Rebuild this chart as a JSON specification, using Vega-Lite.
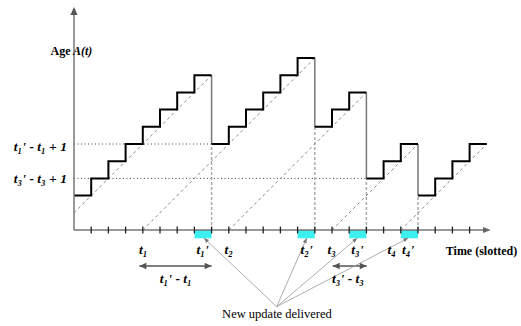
{
  "$schema": "https://vega.github.io/schema/vega-lite/v6.json",
  "width": 521,
  "height": 326,
  "autosize": "none",
  "padding": 0,
  "background": "white",
  "config": {"view": {"stroke": null}},
  "datasets": {
    "slots": [{"x": 7, "x2": 8}, {"x": 13, "x2": 14}, {"x": 16, "x2": 17}, {"x": 19, "x2": 20}],
    "hdots": [{"x": 0, "x2": 8, "y": 5}, {"x": 0, "x2": 17, "y": 3}],
    "vdash": [{"x": 8, "y": 0, "y2": 5}, {"x": 14, "y": 0, "y2": 6}, {"x": 17, "y": 0, "y2": 3}, {"x": 20, "y": 0, "y2": 2}],
    "diag": [
      {"x": 0, "y": 1, "x2": 8, "y2": 9},
      {"x": 4, "y": 0, "x2": 14, "y2": 10},
      {"x": 9, "y": 0, "x2": 17, "y2": 8},
      {"x": 15, "y": 0, "x2": 20, "y2": 5},
      {"x": 19, "y": 0, "x2": 24, "y2": 5}
    ],
    "drops": [{"x": 8, "y": 9, "y2": 5}, {"x": 14, "y": 10, "y2": 6}, {"x": 17, "y": 8, "y2": 3}, {"x": 20, "y": 5, "y2": 2}],
    "stairs": [
      {"x": 0, "y": 2, "run": "a"}, {"x": 1, "y": 3, "run": "a"}, {"x": 2, "y": 4, "run": "a"}, {"x": 3, "y": 5, "run": "a"},
      {"x": 4, "y": 6, "run": "a"}, {"x": 5, "y": 7, "run": "a"}, {"x": 6, "y": 8, "run": "a"}, {"x": 7, "y": 9, "run": "a"}, {"x": 8, "y": 9, "run": "a"},
      {"x": 8, "y": 5, "run": "b"}, {"x": 9, "y": 6, "run": "b"}, {"x": 10, "y": 7, "run": "b"}, {"x": 11, "y": 8, "run": "b"},
      {"x": 12, "y": 9, "run": "b"}, {"x": 13, "y": 10, "run": "b"}, {"x": 14, "y": 10, "run": "b"},
      {"x": 14, "y": 6, "run": "c"}, {"x": 15, "y": 7, "run": "c"}, {"x": 16, "y": 8, "run": "c"}, {"x": 17, "y": 8, "run": "c"},
      {"x": 17, "y": 3, "run": "d"}, {"x": 18, "y": 4, "run": "d"}, {"x": 19, "y": 5, "run": "d"}, {"x": 20, "y": 5, "run": "d"},
      {"x": 20, "y": 2, "run": "e"}, {"x": 21, "y": 3, "run": "e"}, {"x": 22, "y": 4, "run": "e"}, {"x": 23, "y": 5, "run": "e"}, {"x": 24, "y": 5, "run": "e"}
    ],
    "axes": [{"x": 0, "y": 0, "x2": 23.9, "y2": 0}, {"x": 0, "y": 0, "x2": 0, "y2": 12.6}],
    "ticks": [{"x": 1}, {"x": 2}, {"x": 3}, {"x": 4}, {"x": 5}, {"x": 6}, {"x": 7}, {"x": 8}, {"x": 9}, {"x": 10}, {"x": 11}, {"x": 12},
      {"x": 13}, {"x": 14}, {"x": 15}, {"x": 16}, {"x": 17}, {"x": 18}, {"x": 19}, {"x": 20}, {"x": 21}, {"x": 22}, {"x": 23}],
    "spans": [{"x": 3.8, "x2": 8, "y": -2.093}, {"x": 15.04, "x2": 17.02, "y": -2.093}],
    "pointers": [
      {"x": 11.785, "y": -4.459, "x2": 7.558, "y2": -0.465, "id": 1},
      {"x": 11.785, "y": -4.459, "x2": 13.529, "y2": -0.465, "id": 2},
      {"x": 11.785, "y": -4.459, "x2": 16.471, "y2": -0.465, "id": 3},
      {"x": 11.785, "y": -4.459, "x2": 19.436, "y2": -0.465, "id": 4}
    ],
    "tips": [
      {"x": 7.558, "y": -0.465, "id": 1},
      {"x": 13.529, "y": -0.465, "id": 2},
      {"x": 16.471, "y": -0.465, "id": 3},
      {"x": 19.436, "y": -0.465, "id": 4}
    ],
    "heads": [
      {"x": 0, "y": 12.965, "dir": "up"},
      {"x": 24.23, "y": 0, "dir": "right"},
      {"x": 3.8, "y": -2.093, "dir": "spanleft"},
      {"x": 15.04, "y": -2.093, "dir": "spanleft"},
      {"x": 8, "y": -2.093, "dir": "spanright"},
      {"x": 17.02, "y": -2.093, "dir": "spanright"}
    ],
    "labels": [
      {"x": 4.03, "y": -1.395, "text": "t₁", "g": "t"},
      {"x": 7.48, "y": -1.395, "text": "t₁'", "g": "t"},
      {"x": 8.99, "y": -1.395, "text": "t₂", "g": "t"},
      {"x": 13.53, "y": -1.395, "text": "t₂'", "g": "t"},
      {"x": 14.98, "y": -1.395, "text": "t₃", "g": "t"},
      {"x": 16.47, "y": -1.395, "text": "t₃'", "g": "t"},
      {"x": 18.47, "y": -1.395, "text": "t₄", "g": "t"},
      {"x": 19.42, "y": -1.395, "text": "t₄'", "g": "t"},
      {"x": 5.92, "y": -3.08, "text": "t₁' - t₁", "g": "t"},
      {"x": 15.93, "y": -3.08, "text": "t₃' - t₃", "g": "t"},
      {"x": -0.41, "y": 4.85, "text": "t₁' - t₁ + 1", "g": "ylab"},
      {"x": -0.41, "y": 2.95, "text": "t₃' - t₃ + 1", "g": "ylab"},
      {"x": -0.2, "y": 10.157, "text": "Age", "g": "age"},
      {"x": -0.06, "y": 10.157, "text": "A(t)", "g": "agevar"},
      {"x": 23.69, "y": -1.453, "text": "Time (slotted)", "g": "time"},
      {"x": 11.8, "y": -5.116, "text": "New update delivered", "g": "note"}
    ]
  },
  "layer": [
    {
      "data": {"name": "slots"},
      "mark": {"type": "rect", "color": "#3df0f0"},
      "encoding": {
        "x": {"field": "x", "type": "quantitative", "scale": {"domain": [-4.302, 25.988], "nice": false, "zero": false}, "axis": null},
        "x2": {"field": "x2"},
        "y": {"datum": 0, "type": "quantitative", "scale": {"domain": [-5.581, 13.372], "nice": false, "zero": false}, "axis": null},
        "y2": {"datum": -0.48}
      }
    },
    {
      "data": {"name": "hdots"},
      "mark": {"type": "rule", "color": "#444", "strokeWidth": 1, "strokeDash": [1, 2.5]},
      "encoding": {
        "x": {"field": "x", "type": "quantitative", "scale": {"domain": [-4.302, 25.988], "nice": false, "zero": false}, "axis": null},
        "x2": {"field": "x2"},
        "y": {"field": "y", "type": "quantitative", "scale": {"domain": [-5.581, 13.372], "nice": false, "zero": false}, "axis": null}
      }
    },
    {
      "data": {"name": "vdash"},
      "mark": {"type": "rule", "color": "#aaa", "strokeWidth": 1.5, "strokeDash": [3, 2]},
      "encoding": {
        "x": {"field": "x", "type": "quantitative", "scale": {"domain": [-4.302, 25.988], "nice": false, "zero": false}, "axis": null},
        "y": {"field": "y", "type": "quantitative", "scale": {"domain": [-5.581, 13.372], "nice": false, "zero": false}, "axis": null},
        "y2": {"field": "y2"}
      }
    },
    {
      "data": {"name": "diag"},
      "mark": {"type": "rule", "color": "#888", "strokeWidth": 1, "strokeDash": [3, 3]},
      "encoding": {
        "x": {"field": "x", "type": "quantitative", "scale": {"domain": [-4.302, 25.988], "nice": false, "zero": false}, "axis": null},
        "x2": {"field": "x2"},
        "y": {"field": "y", "type": "quantitative", "scale": {"domain": [-5.581, 13.372], "nice": false, "zero": false}, "axis": null},
        "y2": {"field": "y2"}
      }
    },
    {
      "data": {"name": "drops"},
      "mark": {"type": "rule", "color": "#777", "strokeWidth": 1.5},
      "encoding": {
        "x": {"field": "x", "type": "quantitative", "scale": {"domain": [-4.302, 25.988], "nice": false, "zero": false}, "axis": null},
        "y": {"field": "y", "type": "quantitative", "scale": {"domain": [-5.581, 13.372], "nice": false, "zero": false}, "axis": null},
        "y2": {"field": "y2"}
      }
    },
    {
      "data": {"name": "stairs"},
      "mark": {"type": "line", "interpolate": "step-after", "color": "black", "strokeWidth": 2},
      "encoding": {
        "x": {"field": "x", "type": "quantitative", "scale": {"domain": [-4.302, 25.988], "nice": false, "zero": false}, "axis": null},
        "y": {"field": "y", "type": "quantitative", "scale": {"domain": [-5.581, 13.372], "nice": false, "zero": false}, "axis": null},
        "detail": {"field": "run"}
      }
    },
    {
      "data": {"name": "axes"},
      "mark": {"type": "rule", "color": "#777", "strokeWidth": 1.5},
      "encoding": {
        "x": {"field": "x", "type": "quantitative", "scale": {"domain": [-4.302, 25.988], "nice": false, "zero": false}, "axis": null},
        "x2": {"field": "x2"},
        "y": {"field": "y", "type": "quantitative", "scale": {"domain": [-5.581, 13.372], "nice": false, "zero": false}, "axis": null},
        "y2": {"field": "y2"}
      }
    },
    {
      "data": {"name": "ticks"},
      "mark": {"type": "rule", "color": "#222", "strokeWidth": 1.3},
      "encoding": {
        "x": {"field": "x", "type": "quantitative", "scale": {"domain": [-4.302, 25.988], "nice": false, "zero": false}, "axis": null},
        "y": {"datum": -0.2, "type": "quantitative", "scale": {"domain": [-5.581, 13.372], "nice": false, "zero": false}, "axis": null},
        "y2": {"datum": 0.2}
      }
    },
    {
      "data": {"name": "spans"},
      "mark": {"type": "rule", "color": "#555", "strokeWidth": 1.5},
      "encoding": {
        "x": {"field": "x", "type": "quantitative", "scale": {"domain": [-4.302, 25.988], "nice": false, "zero": false}, "axis": null},
        "x2": {"field": "x2"},
        "y": {"field": "y", "type": "quantitative", "scale": {"domain": [-5.581, 13.372], "nice": false, "zero": false}, "axis": null}
      }
    },
    {
      "data": {"name": "pointers"},
      "mark": {"type": "rule", "color": "#999", "strokeWidth": 0.8},
      "encoding": {
        "x": {"field": "x", "type": "quantitative", "scale": {"domain": [-4.302, 25.988], "nice": false, "zero": false}, "axis": null},
        "x2": {"field": "x2"},
        "y": {"field": "y", "type": "quantitative", "scale": {"domain": [-5.581, 13.372], "nice": false, "zero": false}, "axis": null},
        "y2": {"field": "y2"}
      }
    },
    {
      "data": {"name": "heads"},
      "transform": [{"filter": "datum.dir == 'up'"}],
      "mark": {"type": "point", "shape": "M0,0L-0.9,2L0.9,2Z", "filled": true, "color": "#555", "opacity": 1, "size": 64, "angle": 0},
      "encoding": {
        "x": {"field": "x", "type": "quantitative", "scale": {"domain": [-4.302, 25.988], "nice": false, "zero": false}, "axis": null},
        "y": {"field": "y", "type": "quantitative", "scale": {"domain": [-5.581, 13.372], "nice": false, "zero": false}, "axis": null}
      }
    },
    {
      "data": {"name": "heads"},
      "transform": [{"filter": "datum.dir == 'right'"}],
      "mark": {"type": "point", "shape": "M0,0L-0.8,2L0.8,2Z", "filled": true, "color": "#666", "opacity": 1, "size": 60, "angle": 90},
      "encoding": {
        "x": {"field": "x", "type": "quantitative", "scale": {"domain": [-4.302, 25.988], "nice": false, "zero": false}, "axis": null},
        "y": {"field": "y", "type": "quantitative", "scale": {"domain": [-5.581, 13.372], "nice": false, "zero": false}, "axis": null}
      }
    },
    {
      "data": {"name": "heads"},
      "transform": [{"filter": "datum.dir == 'spanleft'"}],
      "mark": {"type": "point", "shape": "M0,0L-0.9,2L0.9,2Z", "filled": true, "color": "#555", "opacity": 1, "size": 49, "angle": 270},
      "encoding": {
        "x": {"field": "x", "type": "quantitative", "scale": {"domain": [-4.302, 25.988], "nice": false, "zero": false}, "axis": null},
        "y": {"field": "y", "type": "quantitative", "scale": {"domain": [-5.581, 13.372], "nice": false, "zero": false}, "axis": null}
      }
    },
    {
      "data": {"name": "heads"},
      "transform": [{"filter": "datum.dir == 'spanright'"}],
      "mark": {"type": "point", "shape": "M0,0L-0.9,2L0.9,2Z", "filled": true, "color": "#555", "opacity": 1, "size": 49, "angle": 90},
      "encoding": {
        "x": {"field": "x", "type": "quantitative", "scale": {"domain": [-4.302, 25.988], "nice": false, "zero": false}, "axis": null},
        "y": {"field": "y", "type": "quantitative", "scale": {"domain": [-5.581, 13.372], "nice": false, "zero": false}, "axis": null}
      }
    },
    {
      "data": {"name": "tips"},
      "transform": [{"filter": "datum.id == 1"}],
      "mark": {"type": "point", "shape": "M0,0L-0.8,2L0.8,2Z", "filled": true, "color": "#777", "opacity": 1, "size": 25, "angle": -46.6},
      "encoding": {
        "x": {"field": "x", "type": "quantitative", "scale": {"domain": [-4.302, 25.988], "nice": false, "zero": false}, "axis": null},
        "y": {"field": "y", "type": "quantitative", "scale": {"domain": [-5.581, 13.372], "nice": false, "zero": false}, "axis": null}
      }
    },
    {
      "data": {"name": "tips"},
      "transform": [{"filter": "datum.id == 2"}],
      "mark": {"type": "point", "shape": "M0,0L-0.8,2L0.8,2Z", "filled": true, "color": "#777", "opacity": 1, "size": 25, "angle": 23.6},
      "encoding": {
        "x": {"field": "x", "type": "quantitative", "scale": {"domain": [-4.302, 25.988], "nice": false, "zero": false}, "axis": null},
        "y": {"field": "y", "type": "quantitative", "scale": {"domain": [-5.581, 13.372], "nice": false, "zero": false}, "axis": null}
      }
    },
    {
      "data": {"name": "tips"},
      "transform": [{"filter": "datum.id == 3"}],
      "mark": {"type": "point", "shape": "M0,0L-0.8,2L0.8,2Z", "filled": true, "color": "#777", "opacity": 1, "size": 25, "angle": 49.55},
      "encoding": {
        "x": {"field": "x", "type": "quantitative", "scale": {"domain": [-4.302, 25.988], "nice": false, "zero": false}, "axis": null},
        "y": {"field": "y", "type": "quantitative", "scale": {"domain": [-5.581, 13.372], "nice": false, "zero": false}, "axis": null}
      }
    },
    {
      "data": {"name": "tips"},
      "transform": [{"filter": "datum.id == 4"}],
      "mark": {"type": "point", "shape": "M0,0L-0.8,2L0.8,2Z", "filled": true, "color": "#777", "opacity": 1, "size": 25, "angle": 62.43},
      "encoding": {
        "x": {"field": "x", "type": "quantitative", "scale": {"domain": [-4.302, 25.988], "nice": false, "zero": false}, "axis": null},
        "y": {"field": "y", "type": "quantitative", "scale": {"domain": [-5.581, 13.372], "nice": false, "zero": false}, "axis": null}
      }
    },
    {
      "data": {"name": "labels"},
      "transform": [{"filter": "datum.g == 't'"}],
      "mark": {"type": "text", "font": "Liberation Serif, DejaVu Serif, serif", "fontSize": 13.5, "fontWeight": "bold", "fontStyle": "italic", "color": "black", "align": "center", "baseline": "alphabetic"},
      "encoding": {
        "x": {"field": "x", "type": "quantitative", "scale": {"domain": [-4.302, 25.988], "nice": false, "zero": false}, "axis": null},
        "y": {"field": "y", "type": "quantitative", "scale": {"domain": [-5.581, 13.372], "nice": false, "zero": false}, "axis": null},
        "text": {"field": "text"}
      }
    },
    {
      "data": {"name": "labels"},
      "transform": [{"filter": "datum.g == 'ylab'"}],
      "mark": {"type": "text", "font": "Liberation Serif, DejaVu Serif, serif", "fontSize": 13.5, "fontWeight": "bold", "fontStyle": "italic", "color": "black", "align": "right", "baseline": "middle"},
      "encoding": {
        "x": {"field": "x", "type": "quantitative", "scale": {"domain": [-4.302, 25.988], "nice": false, "zero": false}, "axis": null},
        "y": {"field": "y", "type": "quantitative", "scale": {"domain": [-5.581, 13.372], "nice": false, "zero": false}, "axis": null},
        "text": {"field": "text"}
      }
    },
    {
      "data": {"name": "labels"},
      "transform": [{"filter": "datum.g == 'age'"}],
      "mark": {"type": "text", "font": "Liberation Serif, DejaVu Serif, serif", "fontSize": 12, "fontWeight": "bold", "color": "black", "align": "right", "baseline": "alphabetic"},
      "encoding": {
        "x": {"field": "x", "type": "quantitative", "scale": {"domain": [-4.302, 25.988], "nice": false, "zero": false}, "axis": null},
        "y": {"field": "y", "type": "quantitative", "scale": {"domain": [-5.581, 13.372], "nice": false, "zero": false}, "axis": null},
        "text": {"field": "text"}
      }
    },
    {
      "data": {"name": "labels"},
      "transform": [{"filter": "datum.g == 'agevar'"}],
      "mark": {"type": "text", "font": "Liberation Serif, DejaVu Serif, serif", "fontSize": 12, "fontWeight": "bold", "fontStyle": "italic", "color": "black", "align": "left", "baseline": "alphabetic"},
      "encoding": {
        "x": {"field": "x", "type": "quantitative", "scale": {"domain": [-4.302, 25.988], "nice": false, "zero": false}, "axis": null},
        "y": {"field": "y", "type": "quantitative", "scale": {"domain": [-5.581, 13.372], "nice": false, "zero": false}, "axis": null},
        "text": {"field": "text"}
      }
    },
    {
      "data": {"name": "labels"},
      "transform": [{"filter": "datum.g == 'time'"}],
      "mark": {"type": "text", "font": "Liberation Serif, DejaVu Serif, serif", "fontSize": 12, "fontWeight": "bold", "color": "black", "align": "center", "baseline": "alphabetic"},
      "encoding": {
        "x": {"field": "x", "type": "quantitative", "scale": {"domain": [-4.302, 25.988], "nice": false, "zero": false}, "axis": null},
        "y": {"field": "y", "type": "quantitative", "scale": {"domain": [-5.581, 13.372], "nice": false, "zero": false}, "axis": null},
        "text": {"field": "text"}
      }
    },
    {
      "data": {"name": "labels"},
      "transform": [{"filter": "datum.g == 'note'"}],
      "mark": {"type": "text", "font": "Liberation Serif, DejaVu Serif, serif", "fontSize": 12.5, "color": "black", "align": "center", "baseline": "alphabetic"},
      "encoding": {
        "x": {"field": "x", "type": "quantitative", "scale": {"domain": [-4.302, 25.988], "nice": false, "zero": false}, "axis": null},
        "y": {"field": "y", "type": "quantitative", "scale": {"domain": [-5.581, 13.372], "nice": false, "zero": false}, "axis": null},
        "text": {"field": "text"}
      }
    }
  ]
}
